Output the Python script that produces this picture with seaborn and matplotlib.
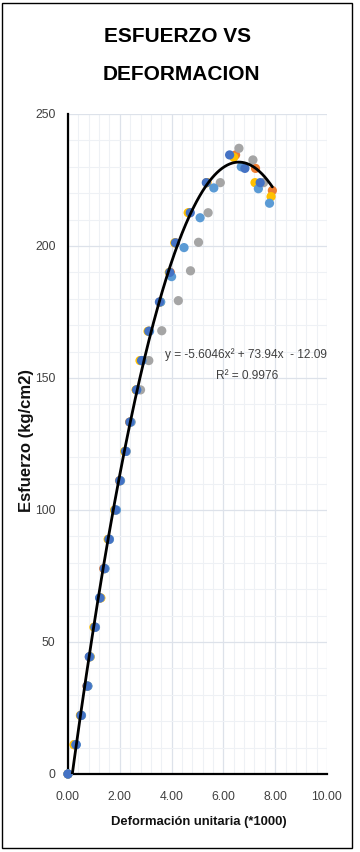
import numpy as np
import pandas as pd
import matplotlib
matplotlib.use("Agg")
import matplotlib.pyplot as plt
from matplotlib.patches import Rectangle
from matplotlib.ticker import MultipleLocator, FormatStrFormatter
import seaborn as sns

# ---------------- data ----------------
s1_x = [0.00, 0.31, 0.50, 0.74, 0.82, 1.04, 1.23, 1.40, 1.58, 1.83, 2.00, 2.22, 2.39, 2.65, 2.84, 3.12, 3.53, 3.93, 4.15, 4.72, 5.34, 6.24, 6.83, 7.42]
s1_y = [0, 11.1, 22.2, 33.3, 44.4, 55.6, 66.7, 77.8, 88.9, 100.0, 111.1, 122.2, 133.3, 145.5, 156.6, 167.7, 178.8, 190.0, 201.2, 212.6, 224.0, 234.5, 229.4, 224.0]

s2_x = [0.00, 0.25, 0.49, 0.73, 0.83, 1.03, 1.24, 1.38, 1.57, 1.82, 1.99, 2.21, 2.38, 2.64, 2.83, 3.12, 3.55, 3.95, 4.15, 4.69, 5.36, 6.47, 7.24, 7.89]
s2_y = [0, 11.1, 22.2, 33.3, 44.4, 55.6, 66.7, 77.8, 88.9, 100.0, 111.1, 122.2, 133.3, 145.5, 156.6, 167.7, 178.8, 190.0, 201.2, 212.6, 224.0, 234.5, 229.4, 221.0]

s3_x = [0.00, 0.30, 0.52, 0.76, 0.85, 1.06, 1.25, 1.42, 1.60, 1.86, 2.03, 2.25, 2.44, 2.80, 3.12, 3.62, 4.26, 4.73, 5.04, 5.41, 5.88, 6.60, 7.14, 7.55]
s3_y = [0, 11.1, 22.2, 33.3, 44.4, 55.6, 66.7, 77.8, 88.9, 100.0, 111.1, 122.2, 133.3, 145.5, 156.6, 167.9, 179.3, 190.6, 201.4, 212.6, 224.0, 237.0, 232.6, 224.0]

s4_x = [0.00, 0.23, 0.48, 0.76, 0.86, 1.00, 1.27, 1.41, 1.55, 1.80, 2.01, 2.19, 2.40, 2.63, 2.78, 3.09, 3.57, 3.91, 4.12, 4.64, 5.36, 6.40, 7.22, 7.84]
s4_y = [0, 11.1, 22.2, 33.3, 44.4, 55.6, 66.7, 77.8, 88.9, 100.0, 111.1, 122.2, 133.3, 145.5, 156.6, 167.7, 178.8, 190.0, 201.2, 212.6, 224.0, 233.6, 224.0, 218.7]

s5_x = [0.00, 0.32, 0.52, 0.77, 0.84, 1.06, 1.22, 1.43, 1.60, 1.87, 2.02, 2.24, 2.42, 2.66, 2.86, 3.15, 3.58, 4.00, 4.48, 5.10, 5.63, 6.69, 7.35, 7.78]
s5_y = [0, 11.1, 22.2, 33.3, 44.4, 55.6, 66.7, 77.8, 88.9, 100.0, 111.1, 122.2, 133.3, 145.5, 156.6, 167.7, 178.8, 188.4, 199.4, 210.7, 222.0, 230.0, 221.7, 216.2]

series_names = ["Serie 2", "Serie 4", "Serie 3", "Serie 5", "Serie 1"]   # drawing order
series_x = [s2_x, s4_x, s3_x, s5_x, s1_x]
series_y = [s2_y, s4_y, s3_y, s5_y, s1_y]
series_colors = ["#ED7D31", "#FFC000", "#A5A5A5", "#5B9BD5", "#4472C4"]

trend_coef = [-5.6046, 73.94, -12.09]
equation_text = "y = -5.6046x\u00b2 + 73.94x  - 12.09"
r2_text = "R\u00b2 = 0.9976"

title_lines = ["ESFUERZO VS", "DEFORMACION"]
x_label = "Deformación unitaria (*1000)"
y_label = "Esfuerzo (kg/cm2)"
x_ticks = [0, 2, 4, 6, 8, 10]
y_ticks = [0, 50, 100, 150, 200, 250]

# ---------------- figure ----------------
sns.set_theme(style="white")
plt.rcParams["font.family"] = ["Liberation Sans", "DejaVu Sans"]

W, H = 360, 852
fig = plt.figure(figsize=(W / 100, H / 100), dpi=100)
L, R, T, B = 68, 327, 114, 774
ax = fig.add_axes([L / W, 1 - B / H, (R - L) / W, (B - T) / H])

df = pd.concat(
    [pd.DataFrame({"x": xs, "y": ys, "serie": n}) for n, xs, ys in zip(series_names, series_x, series_y)],
    ignore_index=True,
)

# trendline
xs_fit = np.linspace(min(min(v) for v in series_x), max(max(v) for v in series_x), 400)
fit_df = pd.DataFrame({"x": xs_fit, "y": np.polyval(trend_coef, xs_fit)})

sns.scatterplot(data=df, x="x", y="y", hue="serie", hue_order=series_names,
                palette=dict(zip(series_names, series_colors)), s=44,
                linewidth=0, legend=False, ax=ax, zorder=3, clip_on=False)
sns.lineplot(data=fit_df, x="x", y="y", color="black", linewidth=2.0, ax=ax, zorder=4)

ax.set_xlim(0, 10)
ax.set_ylim(0, 250)
ax.xaxis.set_minor_locator(MultipleLocator(0.4))
ax.yaxis.set_minor_locator(MultipleLocator(10))
ax.set_xticks(x_ticks)
ax.set_yticks(y_ticks)
ax.xaxis.set_major_formatter(FormatStrFormatter("%.2f"))
ax.yaxis.set_major_formatter(FormatStrFormatter("%d"))

ax.grid(True, which="major", color="#DDE2EA", linewidth=0.9)
ax.grid(True, which="minor", color="#EEF1F5", linewidth=0.8)
ax.set_axisbelow(True)

for side in ["top", "right"]:
    ax.spines[side].set_visible(False)
for side in ["left", "bottom"]:
    ax.spines[side].set_color("black")
    ax.spines[side].set_linewidth(1.6)
    ax.spines[side].set_zorder(2)

ax.tick_params(axis="both", which="both", length=0, labelsize=8.8, labelcolor="#404040")
ax.tick_params(axis="x", pad=12)
ax.tick_params(axis="y", pad=9)

ax.set_xlabel(x_label, fontsize=9.4, fontweight="bold", color="#111111")
ax.xaxis.set_label_coords((199 - L) / (R - L), (B - 816) / (B - T))
ax.set_ylabel(y_label, fontsize=12, fontweight="bold", color="#111111")
ax.yaxis.set_label_coords((34 - L) / (R - L), (B - 440) / (B - T))

ax.text((246 - L) / (R - L), (B - 355) / (B - T), equation_text, transform=ax.transAxes,
        ha="center", va="center", fontsize=8.6, color="#404040")
ax.text((247 - L) / (R - L), (B - 376) / (B - T), r2_text, transform=ax.transAxes,
        ha="center", va="center", fontsize=8.6, color="#404040")

fig.text(0.492, 1 - 36 / H, title_lines[0], ha="center", va="center",
         fontsize=15, fontweight="bold", color="black")
fig.text(0.505, 1 - 74 / H, title_lines[1], ha="center", va="center",
         fontsize=15, fontweight="bold", color="black")

fig.patches.append(Rectangle((2 / W, 1 - 848 / H), (352 - 2) / W, (848 - 3) / H,
                             transform=fig.transFigure, fill=False,
                             edgecolor="black", linewidth=1.0))

fig.savefig("out.png", dpi=100)
